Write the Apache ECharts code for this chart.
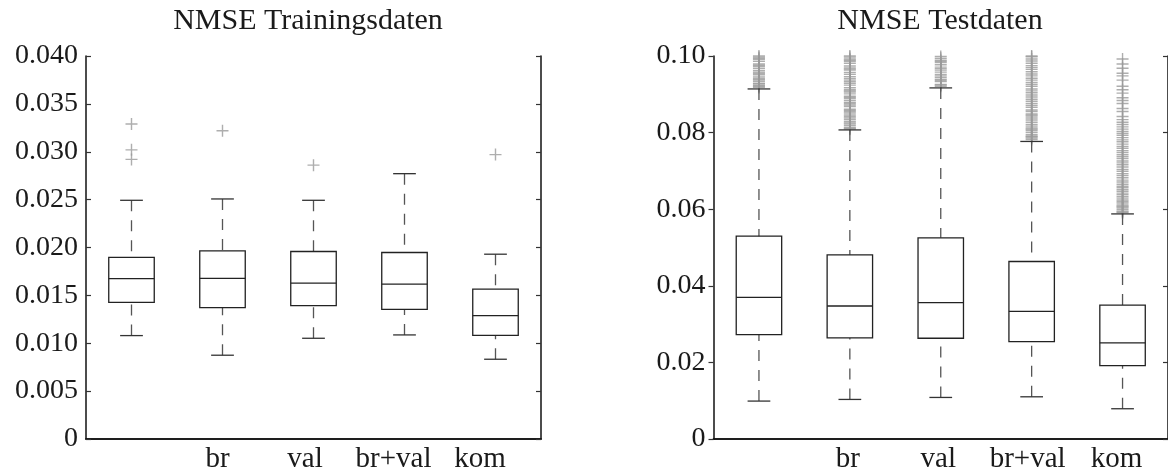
<!DOCTYPE html>
<html><head><meta charset="utf-8">
<script src="https://cdn.jsdelivr.net/npm/echarts@6/dist/echarts.min.js"></script>
<style>html,body{margin:0;padding:0;background:#fff}#c{width:1168px;height:474px}</style>
</head><body><div id="c"></div>
<script>
const categories = ['', 'br', 'val', 'br+val', 'kom'];
const trainTickLabels = ['0','0.005','0.010','0.015','0.020','0.025','0.030','0.035','0.040'];
const testTickLabels = ['0','0.02','0.04','0.06','0.08','0.10'];

const trainLow    = [0.0108, 0.00875, 0.01052, 0.01087, 0.00833];
const trainQ1     = [0.01427, 0.01372, 0.01392, 0.01354, 0.01083];
const trainMedian = [0.01674, 0.01677, 0.01628, 0.01618, 0.01288];
const trainQ3     = [0.01896, 0.01965, 0.01958, 0.01948, 0.01566];
const trainHigh   = [0.02493, 0.02507, 0.02493, 0.02771, 0.0193];
const trainOutliers = [[0.0329, 0.0302, 0.0292], [0.0322], [0.0286], [], [0.0297]];

const testLow    = [0.0099, 0.01033, 0.01085, 0.01102, 0.0079];
const testQ1     = [0.02726, 0.02639, 0.0263, 0.02543, 0.01918];
const testMedian = [0.03698, 0.03472, 0.0356, 0.03333, 0.02509];
const testQ3     = [0.05295, 0.0481, 0.05252, 0.04635, 0.03498];
const testHigh   = [0.0914, 0.0807, 0.09167, 0.07769, 0.05877];
const testOutliers = [
  [0.0918,0.0921,0.0923,0.0927,0.0929,0.0934,0.0938,0.0941,0.0945,0.0951,0.0955,0.0958,0.0962,0.0968,0.0973,0.0976,0.0979,0.0986,0.0991,0.0994,0.0997,0.1],
  [0.0809,0.0811,0.0813,0.0818,0.0822,0.0825,0.0829,0.0834,0.0838,0.0842,0.0846,0.0851,0.0855,0.0858,0.0861,0.0868,0.0872,0.0876,0.0879,0.0884,0.0889,0.0892,0.0895,0.0901,0.0906,0.0909,0.0912,0.0917,0.0924,0.0929,0.0933,0.0937,0.0941,0.0946,0.0952,0.0957,0.0963,0.0966,0.0969,0.0974,0.0981,0.0986,0.0989,0.0992,0.0997,0.1],
  [0.0921,0.0924,0.0926,0.0933,0.0936,0.0939,0.0944,0.0948,0.0952,0.0958,0.0963,0.0967,0.0971,0.0977,0.0983,0.0986,0.0989,0.0994,0.0999],
  [0.0782,0.0786,0.0789,0.0791,0.0795,0.0801,0.0806,0.0809,0.0812,0.0817,0.0821,0.0827,0.0833,0.0838,0.0843,0.0846,0.0849,0.0855,0.0859,0.0866,0.0871,0.0876,0.0882,0.0887,0.0893,0.0898,0.0904,0.0909,0.0914,0.0921,0.0926,0.0931,0.0937,0.0942,0.0948,0.0953,0.0959,0.0965,0.097,0.0975,0.0981,0.0987,0.0992,0.0998,0.1],
  [0.0591,0.0593,0.0595,0.0599,0.0603,0.0606,0.0608,0.0611,0.0616,0.062,0.0624,0.0629,0.0633,0.0638,0.0642,0.0647,0.0651,0.0656,0.066,0.0665,0.0671,0.0676,0.0682,0.0688,0.0693,0.0699,0.0704,0.071,0.0716,0.0721,0.0726,0.0732,0.0737,0.0742,0.0748,0.0753,0.0759,0.0764,0.077,0.0776,0.0781,0.0787,0.0793,0.0798,0.0803,0.0809,0.0815,0.0821,0.0827,0.0834,0.0842,0.0855,0.0863,0.0876,0.0884,0.0891,0.0903,0.0912,0.0921,0.0937,0.0948,0.0955,0.0968,0.0979,0.0992]
];

const FONT = '"Liberation Serif", "Times New Roman", serif';
const AXIS_COLOR = '#111';
const TEXT_COLOR = '#1a1a1a';

function boxRender(params, api) {
  const i = api.value(0);
  const lo = api.coord([i, api.value(1)]);
  const q1 = api.coord([i, api.value(2)]);
  const md = api.coord([i, api.value(3)]);
  const q3 = api.coord([i, api.value(4)]);
  const hi = api.coord([i, api.value(5)]);
  const bw = api.size([1, 0])[0] * 0.5;
  const cx = lo[0];
  const cw = bw / 2;
  const dashStyle = {stroke: '#555', lineWidth: 1.3, lineDash: [11, 9]};
  const solid = {stroke: '#222', lineWidth: 1.3};
  return {
    type: 'group',
    children: [
      {type: 'line', shape: {x1: cx, y1: lo[1], x2: cx, y2: q1[1]}, style: dashStyle},
      {type: 'line', shape: {x1: cx, y1: hi[1], x2: cx, y2: q3[1]}, style: dashStyle},
      {type: 'line', shape: {x1: cx - cw / 2, y1: lo[1], x2: cx + cw / 2, y2: lo[1]}, style: {stroke: '#333', lineWidth: 1.3}},
      {type: 'line', shape: {x1: cx - cw / 2, y1: hi[1], x2: cx + cw / 2, y2: hi[1]}, style: {stroke: '#333', lineWidth: 1.3}},
      {type: 'rect', shape: {x: cx - bw / 2, y: q3[1], width: bw, height: q1[1] - q3[1]}, style: {fill: 'none', stroke: '#222', lineWidth: 1.3}},
      {type: 'line', shape: {x1: cx - bw / 2, y1: md[1], x2: cx + bw / 2, y2: md[1]}, style: solid}
    ]
  };
}

function boxData(lo, q1, md, q3, hi) {
  return categories.map((c, i) => [i, lo[i], q1[i], md[i], q3[i], hi[i]]);
}
function outlierData(list) {
  const out = [];
  list.forEach((vals, i) => vals.forEach(v => out.push([i, v])));
  return out;
}

const PLUS = 'path://M5.3,0h1.4v12h-1.4z M0,5.3h12v1.4h-12z';

function catAxes(gridIndex, shifts) {
  const rich = {};
  shifts.forEach((s, i) => { rich['s' + i] = {fontFamily: FONT, fontSize: 29, color: TEXT_COLOR, padding: [0, s, 0, 0]}; });
  return [
    {
      type: 'category', gridIndex, data: categories, position: 'bottom', boundaryGap: true,
      axisLine: {show: true, lineStyle: {color: AXIS_COLOR, width: 1.5}},
      axisTick: {show: false},
      axisLabel: {
        margin: 6, interval: 0,
        formatter: (v, idx) => '{s' + idx + '|' + v + '}',
        rich
      },
      splitLine: {show: false}
    },
    {
      type: 'category', gridIndex, data: categories, position: 'top', boundaryGap: true,
      axisLine: {show: true, lineStyle: {color: AXIS_COLOR, width: 1.5}},
      axisTick: {show: false}, axisLabel: {show: false}, splitLine: {show: false}
    }
  ];
}

function valAxes(gridIndex, max, interval, labels, leftInside) {
  return [
    {
      type: 'value', gridIndex, min: 0, max, interval, position: 'left',
      axisLine: {show: true, lineStyle: {color: AXIS_COLOR, width: 1.5}},
      axisTick: {show: true, inside: leftInside, length: 5, lineStyle: {color: '#333', width: 1.2}},
      axisLabel: {
        margin: 8, fontFamily: FONT, fontSize: 28, color: TEXT_COLOR,
        formatter: v => labels[Math.round(v / interval)]
      },
      splitLine: {show: false}
    },
    {
      type: 'value', gridIndex, min: 0, max, interval, position: 'right',
      axisLine: {show: true, lineStyle: {color: AXIS_COLOR, width: 1.5}},
      axisTick: {show: true, inside: true, length: 5, lineStyle: {color: '#333', width: 1.2}},
      axisLabel: {show: false}, splitLine: {show: false}
    }
  ];
}

const chart = echarts.init(document.getElementById('c'), null, {renderer: 'canvas'});
chart.setOption({
  animation: false,
  backgroundColor: '#fff',
  title: [
    {text: 'NMSE Trainingsdaten', left: 303, top: 1, textAlign: 'center',
     textStyle: {fontFamily: FONT, fontSize: 30, fontWeight: 'normal', color: TEXT_COLOR}},
    {text: 'NMSE Testdaten', left: 935, top: 1, textAlign: 'center',
     textStyle: {fontFamily: FONT, fontSize: 30, fontWeight: 'normal', color: TEXT_COLOR}}
  ],
  grid: [
    {left: 86, top: 56, width: 455, height: 384},
    {left: 713.5, top: 56, width: 455, height: 384}
  ],
  xAxis: [].concat(catAxes(0, [0, 10, 17, 22, 31]), catAxes(1, [0, 4, 5, 8, 12])),
  yAxis: [].concat(valAxes(0, 0.04, 0.005, trainTickLabels, true), valAxes(1, 0.1, 0.02, testTickLabels, false)),
  series: [
    {type: 'custom', xAxisIndex: 0, yAxisIndex: 0, renderItem: boxRender,
     data: boxData(trainLow, trainQ1, trainMedian, trainQ3, trainHigh), encode: {x: 0, y: [1, 2, 3, 4, 5]}, z: 2},
    {type: 'scatter', xAxisIndex: 0, yAxisIndex: 0, data: outlierData(trainOutliers),
     symbol: PLUS, symbolSize: 12, itemStyle: {color: '#9a9a9a'}, z: 1},
    {type: 'custom', xAxisIndex: 2, yAxisIndex: 2, renderItem: boxRender,
     data: boxData(testLow, testQ1, testMedian, testQ3, testHigh), encode: {x: 0, y: [1, 2, 3, 4, 5]}, z: 2},
    {type: 'scatter', xAxisIndex: 2, yAxisIndex: 2, data: outlierData(testOutliers),
     symbol: PLUS, symbolSize: 12, itemStyle: {color: '#9a9a9a'}, z: 1}
  ]
});
</script>
</body></html>
